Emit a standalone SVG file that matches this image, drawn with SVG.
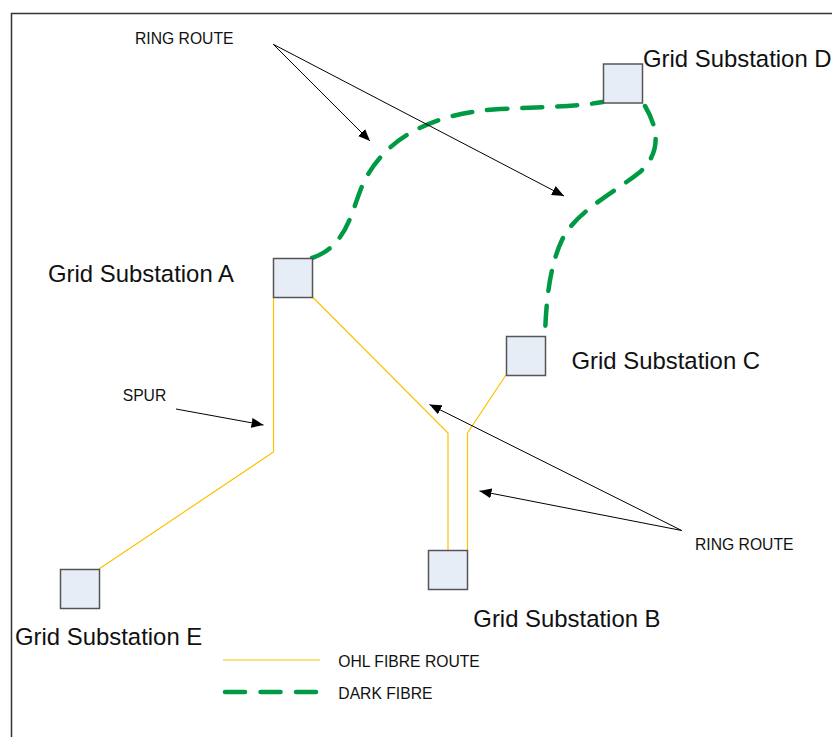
<svg xmlns="http://www.w3.org/2000/svg" width="832" height="737" viewBox="0 0 832 737">
  <style>
    .box { fill: #e7edf7; stroke: #555555; stroke-width: 1.5; }
    .label { font-family: "Liberation Sans", Arial, sans-serif; font-size: 23.9px; fill: #111111; }
    .note { font-family: "Liberation Sans", Arial, sans-serif; font-size: 15.7px; fill: #111111; }
    .ohl { fill: none; stroke: #ffc000; stroke-width: 1.2; }
    .dark { fill: none; stroke: #009a44; stroke-width: 4.5; stroke-linecap: round; stroke-dasharray: 20 15; }
    .pointer { fill: none; stroke: #000000; stroke-width: 1; marker-end: url(#head); }
  </style>
  <defs>
    <marker id="head" markerUnits="userSpaceOnUse" markerWidth="13" markerHeight="10" refX="12" refY="5" orient="auto">
      <path d="M0,0 L12,5 L0,10 z" fill="#000000"/>
    </marker>
  </defs>

  <rect width="832" height="737" fill="#ffffff"/>
  <!-- page frame -->
  <path d="M11.5,737 V13.5 H832" fill="none" stroke="#333333" stroke-width="1.5"/>

  <g id="connectors">
    <!-- OHL fibre routes -->
    <path class="ohl" d="M273.5,297 V452 L99,569"/>
    <path class="ohl" d="M312.5,297 L448,433 V550"/>
    <path class="ohl" d="M506,375 L467.5,433 V550"/>
    <!-- dark fibre ring -->
    <path class="dark" d="M312,258 C350,245 352,205 365,180 C385,140 430,113 500,109 C550,107 580,106 603,102"/>
    <path class="dark" d="M645,106 C658,128 662,152 640,172 C615,192 575,212 562,240 C550,265 546,300 545,336"/>
    <!-- annotation pointers -->
    <path class="pointer" d="M273.3,44.3 L370,141"/>
    <path class="pointer" d="M273.3,44.3 L564,196"/>
    <path class="pointer" d="M176,409 L263.5,425"/>
    <path class="pointer" d="M681.7,530.5 L429.5,404.5"/>
    <path class="pointer" d="M681.7,530.5 L479.5,491"/>
  </g>

  <g id="substation-a">
    <rect class="box" x="273.5" y="258.5" width="39" height="39"/>
    <text class="label" x="48" y="281.7">Grid Substation A</text>
  </g>
  <g id="substation-b">
    <rect class="box" x="428.5" y="550.5" width="39" height="39"/>
    <text class="label" x="473.3" y="626.7">Grid Substation B</text>
  </g>
  <g id="substation-c">
    <rect class="box" x="506.5" y="336.5" width="39" height="39"/>
    <text class="label" x="571.5" y="368.5">Grid Substation C</text>
  </g>
  <g id="substation-d">
    <rect class="box" x="603.5" y="64" width="39" height="39"/>
    <text class="label" x="643" y="67">Grid Substation D</text>
  </g>
  <g id="substation-e">
    <rect class="box" x="60.5" y="569.5" width="39" height="39"/>
    <text class="label" x="15" y="645">Grid Substation E</text>
  </g>

  <g id="annotations">
    <text class="note" x="135" y="43.5">RING ROUTE</text>
    <text class="note" x="122.7" y="401">SPUR</text>
    <text class="note" x="695" y="549.5">RING ROUTE</text>
  </g>

  <g id="legend">
    <path class="ohl" d="M223,660 H320"/>
    <text class="note" x="338.3" y="667">OHL FIBRE ROUTE</text>
    <path class="dark" d="M225,692 H317" style="stroke-dasharray: 20 15.5"/>
    <text class="note" x="338.3" y="698.5">DARK FIBRE</text>
  </g>
</svg>
